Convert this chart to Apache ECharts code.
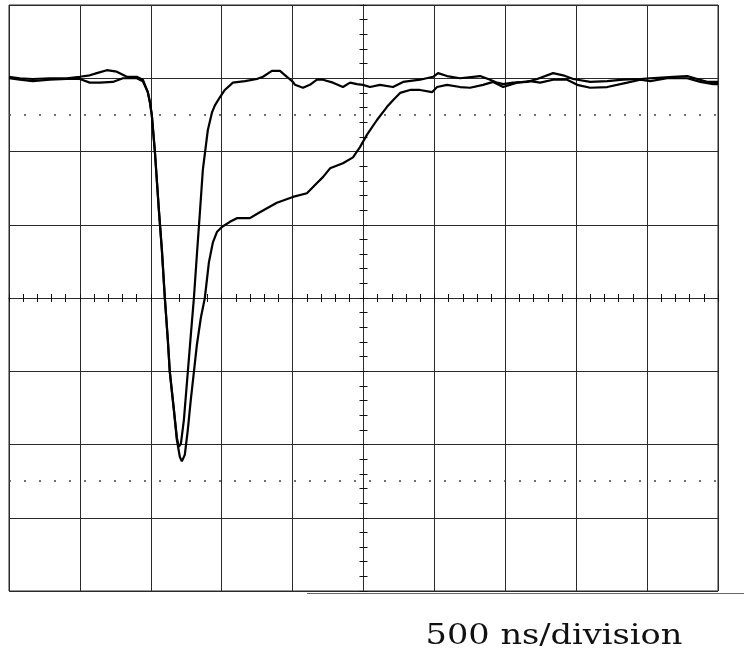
<!DOCTYPE html>
<html>
<head>
<meta charset="utf-8">
<script src="https://cdn.jsdelivr.net/npm/echarts@6/dist/echarts.min.js"></script>
<style>
html,body{margin:0;padding:0;background:#fff;}
#chart{width:744px;height:662px;}
</style>
</head>
<body>
<div id="chart"></div>
<script>
// time in ns relative to screen centre, amplitude in divisions
const timeFast = [-2500,-2424,-2333,-2213,-2093,-2001,-1930,-1881,-1810,-1740,-1669,-1599,-1556,-1521,-1507,-1493,-1472,-1443,-1422,-1401,-1380,-1366,-1337,-1316,-1302,-1288,-1267,-1239,-1218,-1196,-1175,-1154,-1133,-1098,-1069,-1048,-1013,-978,-921,-836,-752,-709,-646,-589,-540,-498,-483,-427,-378,-328,-286,-215,-145,-95,-46,-4,46,116,208,279,399,491,526,589,681,773,822,893,942,985,1055,1154,1225,1337,1408,1479,1599,1719,1832,1952,2022,2184,2283,2354,2424,2500];
const valuesFast = [3.02,3.00,2.99,3.00,3.00,3.02,3.04,3.07,3.11,3.09,3.02,3.02,2.98,2.81,2.68,2.50,2.02,1.20,0.66,0,-0.57,-1.01,-1.53,-1.91,-2.03,-1.99,-1.67,-1.01,-0.51,0,0.59,1.16,1.75,2.29,2.53,2.63,2.74,2.84,2.94,2.96,2.99,3.02,3.10,3.10,3.02,2.95,2.91,2.87,2.91,2.98,2.98,2.94,2.88,2.94,2.92,2.91,2.88,2.91,2.88,2.95,2.98,3.02,3.07,3.03,3.00,3.02,3.03,2.98,2.94,2.92,2.94,2.95,2.99,3.07,3.04,2.99,2.95,2.96,2.98,2.99,3.00,3.02,3.03,2.99,2.95,2.95];
const timeSlow = [-2500,-2424,-2333,-2213,-2093,-2001,-1930,-1860,-1768,-1697,-1599,-1556,-1521,-1507,-1493,-1472,-1443,-1422,-1401,-1380,-1366,-1337,-1316,-1295,-1281,-1260,-1239,-1218,-1196,-1175,-1147,-1119,-1090,-1062,-1034,-999,-942,-893,-801,-731,-611,-498,-399,-328,-286,-236,-145,-74,-25,25,95,166,208,258,328,399,483,519,589,681,752,843,914,985,1083,1175,1246,1337,1436,1507,1599,1719,1860,1952,2022,2142,2283,2375,2467,2500];
const valuesSlow = [3.00,2.98,2.96,2.98,2.99,2.99,2.94,2.94,2.95,3.00,3.00,2.96,2.81,2.68,2.50,2.02,1.20,0.66,0,-0.57,-1.01,-1.53,-1.94,-2.17,-2.23,-2.14,-1.80,-1.39,-1.01,-0.64,-0.27,0,0.49,0.76,0.90,0.97,1.04,1.09,1.09,1.17,1.30,1.38,1.43,1.57,1.65,1.77,1.84,1.92,2.06,2.23,2.43,2.61,2.70,2.80,2.84,2.84,2.81,2.88,2.91,2.88,2.87,2.91,2.95,2.88,2.94,2.96,2.94,2.98,2.98,2.91,2.87,2.88,2.94,2.98,2.96,3.00,3.00,2.95,2.92,2.92];
const graticuleLevels = [2.5, -2.5];
const captionText = '500 ns/division';

const pairs = (xs, ys) => xs.map((x, i) => [x, ys[i]]);
const gridCol = '#2a2a2a';

const chart = echarts.init(document.getElementById('chart'), null, {renderer: 'canvas'});
chart.setOption({
  animation: false,
  backgroundColor: '#fff',
  grid: {left: 9, top: 5, width: 709, height: 586, show: true, borderColor: gridCol, borderWidth: 1, backgroundColor: 'transparent'},
  xAxis: [
    {type: 'value', min: -2500, max: 2500, interval: 500,
     axisLine: {show: false, onZero: false}, axisTick: {show: false}, axisLabel: {show: false},
     splitLine: {show: true, lineStyle: {color: gridCol, width: 1}}},
    {type: 'value', min: -2500, max: 2500, interval: 100, position: 'bottom',
     axisLine: {show: true, onZero: true, onZeroAxisIndex: 0, lineStyle: {color: gridCol, width: 1}},
     axisTick: {show: true, inside: false, length: 4, lineStyle: {color: '#111', width: 1}},
     axisLabel: {show: false}, splitLine: {show: false}},
    {type: 'value', min: -2500, max: 2500, interval: 100, position: 'top',
     axisLine: {show: true, onZero: true, onZeroAxisIndex: 0, lineStyle: {color: gridCol, width: 1}},
     axisTick: {show: true, inside: false, length: 4, lineStyle: {color: '#111', width: 1}},
     axisLabel: {show: false}, splitLine: {show: false}}
  ],
  yAxis: [
    {type: 'value', min: -4, max: 4, interval: 1,
     axisLine: {show: false, onZero: false}, axisTick: {show: false}, axisLabel: {show: false},
     splitLine: {show: true, lineStyle: {color: gridCol, width: 1}}},
    {type: 'value', min: -4, max: 4, interval: 0.2, position: 'left',
     axisLine: {show: true, onZero: true, onZeroAxisIndex: 0, lineStyle: {color: gridCol, width: 1}},
     axisTick: {show: true, inside: false, length: 4, lineStyle: {color: '#111', width: 1}},
     axisLabel: {show: false}, splitLine: {show: false}},
    {type: 'value', min: -4, max: 4, interval: 0.2, position: 'right',
     axisLine: {show: true, onZero: true, onZeroAxisIndex: 0, lineStyle: {color: gridCol, width: 1}},
     axisTick: {show: true, inside: false, length: 4, lineStyle: {color: '#111', width: 1}},
     axisLabel: {show: false}, splitLine: {show: false}}
  ],
  series: [
    {type: 'line', name: 'slow', xAxisIndex: 0, yAxisIndex: 0, data: pairs(timeSlow, valuesSlow),
     symbol: 'none', lineStyle: {color: '#000', width: 2.2}, z: 5,
     markLine: {silent: true, symbol: 'none', label: {show: false},
       lineStyle: {color: '#444', width: 1.5, type: [2, 13]},
       data: graticuleLevels.map(v => ({yAxis: v}))}},
    {type: 'line', name: 'fast', xAxisIndex: 0, yAxisIndex: 0, data: pairs(timeFast, valuesFast),
     symbol: 'none', lineStyle: {color: '#000', width: 2.2}, z: 5}
  ],
  graphic: [
    {type: 'line', shape: {x1: 307, y1: 593.5, x2: 744, y2: 593.5}, style: {stroke: '#666', lineWidth: 1}, silent: true},
    {type: 'text', x: 554, y: 637, scaleX: 1.2, style: {text: captionText, font: '28px "DejaVu Serif"', fill: '#111', textAlign: 'center', textVerticalAlign: 'middle'}}
  ]
});
</script>
</body>
</html>
